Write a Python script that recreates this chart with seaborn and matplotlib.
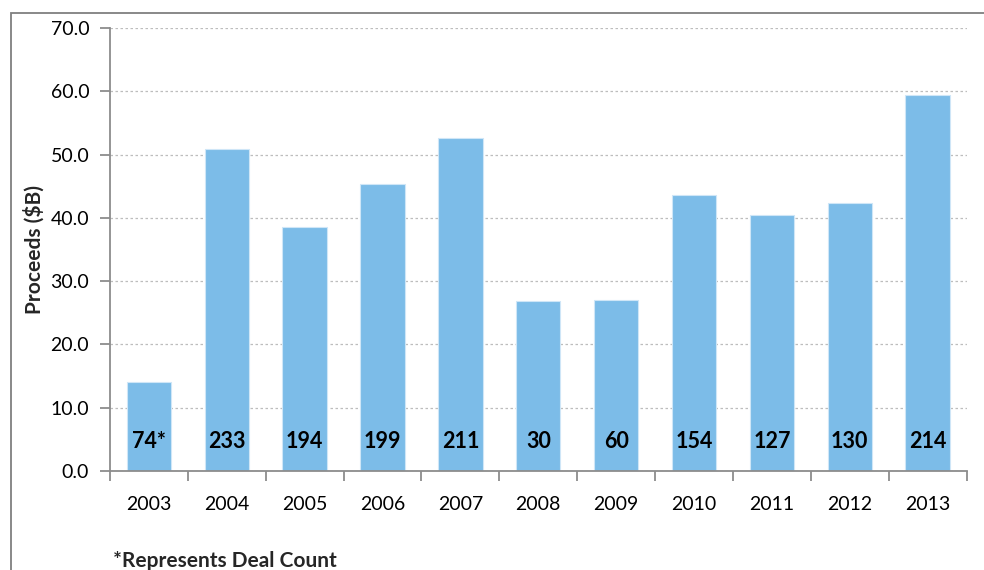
import matplotlib
matplotlib.use("Agg")
import matplotlib.pyplot as plt
import seaborn as sns
import pandas as pd
from matplotlib.patches import Rectangle

years = ["2003", "2004", "2005", "2006", "2007", "2008", "2009", "2010", "2011", "2012", "2013"]
proceeds = [14.1, 50.8, 38.5, 45.4, 52.6, 26.8, 27.0, 43.6, 40.5, 42.3, 59.4]
deal_labels = ["74*", "233", "194", "199", "211", "30", "60", "154", "127", "130", "214"]
y_ticks = [0, 10, 20, 30, 40, 50, 60, 70]

sns.set_theme(style="white")
plt.rcParams['font.family'] = ['Lato', 'DejaVu Sans']

df = pd.DataFrame({"year": years, "proceeds": proceeds})

fig = plt.figure(figsize=(9.84, 5.70), dpi=100)
ax = fig.add_axes([0.1118, 0.1737, 0.8705, 0.7773])

bar_color = "#7CBCE8"
sns.barplot(data=df, x="year", y="proceeds", color=bar_color, saturation=1,
            width=0.57, edgecolor="#CFE6F7", linewidth=0.8, ax=ax)

ax.set_ylim(0, 70)
ax.set_xlim(-0.5, len(years) - 0.5)
ax.set_yticks(y_ticks)
ax.set_yticklabels([f"{v:.1f}" for v in y_ticks])
ax.yaxis.grid(True, linestyle=(0, (2, 2)), color="#BDBDBD", linewidth=0.9)
ax.xaxis.grid(False)
ax.set_axisbelow(True)

for s in ["top", "right"]:
    ax.spines[s].set_visible(False)
for s in ["left", "bottom"]:
    ax.spines[s].set_color("#8C8C8C")
    ax.spines[s].set_linewidth(1.3)

ax.tick_params(axis="y", which="major", direction="out", length=7, width=1.3,
               color="#8C8C8C", labelsize=14, labelcolor="black", pad=8, left=True)
ax.set_xticks(range(len(years)))
ax.set_xticklabels(years)
ax.tick_params(axis="x", which="major", length=0, labelsize=14, labelcolor="black", pad=18)
ax.set_xticks([i - 0.5 for i in range(len(years) + 1)], minor=True)
ax.tick_params(axis="x", which="minor", direction="out", length=7, width=1.3,
               color="#8C8C8C", bottom=True)

for i, lab in enumerate(deal_labels):
    ax.text(i, 4.7, lab, ha="center", va="center", fontsize=15.5,
            fontweight="bold", color="black")

ax.set_xlabel("")
ax.set_ylabel("Proceeds ($B)", fontsize=15, fontweight="bold", labelpad=4)

fig.text(113 / 984, 1 - 561 / 570, "*Represents Deal Count", fontsize=15,
         fontweight="bold", ha="left", va="center")

fig.patches.append(Rectangle((11 / 984, -0.05), 1.1, 1 - 13 / 570 + 0.05,
                             transform=fig.transFigure, fill=False,
                             edgecolor="#7F7F7F", linewidth=1.3))

fig.savefig("out.png", dpi=100)
